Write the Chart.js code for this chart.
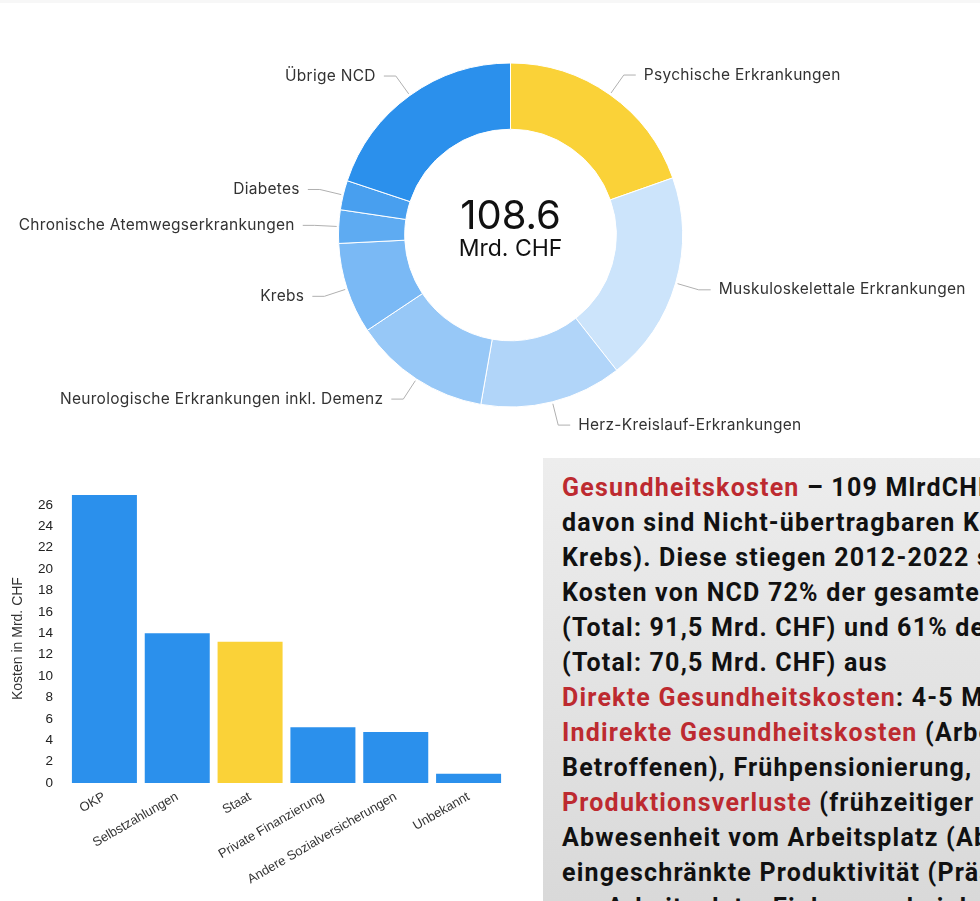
<!DOCTYPE html>
<html lang="de">
<head>
<meta charset="utf-8">
<title>NCD Kosten</title>
<script src="https://cdn.jsdelivr.net/npm/chart.js@4.4.1/dist/chart.umd.min.js"></script>
<style>
  html, body { margin: 0; padding: 0; background: #fff; overflow: hidden; }
  body { width: 980px; height: 901px; position: relative; }
  .topline { position: absolute; left: 0; top: 0; width: 980px; height: 3px; background: #f7f7f7; }
  #donutWrap { position: absolute; left: 0; top: 0; width: 980px; height: 470px; }
  #barWrap { position: absolute; left: 0; top: 471px; width: 520px; height: 430px; }
  .infobox {
    position: absolute; left: 543px; top: 458px; right: 0; bottom: 0;
    background: linear-gradient(#ededed, #d9d9d9);
    overflow: hidden;
    font-family: "Roboto", sans-serif;
    font-weight: 700; font-size: 25px; line-height: 35px; color: #111;
    letter-spacing: 1.2px;
    padding: 12px 0 0 19px; box-sizing: border-box;
  }
  .infobox div { white-space: nowrap; }
  .infobox .hl { color: #bd2a30; }
</style>
</head>
<body>
<div class="topline"></div>
<div id="donutWrap"><canvas id="donutChart" width="980" height="470"></canvas></div>
<div id="barWrap"><canvas id="barChart" width="520" height="430"></canvas></div>

<div class="infobox">
  <div><span class="hl">Gesundheitskosten</span> – 109 MlrdCHF (2022),</div>
  <div>davon sind Nicht-übertragbaren Krankheiten (NCD,</div>
  <div>Krebs). Diese stiegen 2012-2022 stark an.</div>
  <div>Kosten von NCD 72% der gesamten</div>
  <div>(Total: 91,5 Mrd. CHF) und 61% der</div>
  <div>(Total: 70,5 Mrd. CHF) aus</div>
  <div><span class="hl">Direkte Gesundheitskosten</span>: 4-5 Mrd. CHF</div>
  <div><span class="hl">Indirekte Gesundheitskosten</span> (Arbeitsausfall der</div>
  <div>Betroffenen), Frühpensionierung, Invalidität</div>
  <div><span class="hl">Produktionsverluste</span> (frühzeitiger Tod,</div>
  <div>Abwesenheit vom Arbeitsplatz (Absentismus),</div>
  <div>eingeschränkte Produktivität (Präsentismus)</div>
  <div>am Arbeitsplatz, Einbussen bei der Arbeit</div>
</div>

<script>
// Kosten nach Krankheitsgruppe (Mrd. CHF)
const ncdLabels = [
  'Psychische Erkrankungen',
  'Muskuloskelettale Erkrankungen',
  'Herz-Kreislauf-Erkrankungen',
  'Neurologische Erkrankungen inkl. Demenz',
  'Krebs',
  'Chronische Atemwegserkrankungen',
  'Diabetes',
  'Übrige NCD'
];
const ncdValues = [21.3, 21.5, 14.5, 14.0, 9.3, 3.4, 3.0, 21.6];
const ncdColors = ['#fad238', '#cce4fb', '#b1d5f9', '#97c8f7', '#7ab9f5', '#5eabf2', '#489fef', '#2b90ec'];
const ncdTotal = '108.6';
const ncdUnit = 'Mrd. CHF';

// Finanzierung (Mrd. CHF)
const fundLabels = ['OKP', 'Selbstzahlungen', 'Staat', 'Private Finanzierung', 'Andere Sozialversicherungen', 'Unbekannt'];
const fundValues = [27.0, 14.1, 13.3, 5.3, 4.85, 0.96];
const fundColors = ['#2b90ec', '#2b90ec', '#fad238', '#2b90ec', '#2b90ec', '#2b90ec'];
const yTicks = [0, 2, 4, 6, 8, 10, 12, 14, 16, 18, 20, 22, 24, 26];

// Beschriftungen mit Verbindungslinien ausserhalb des Rings
const outerLabels = {
  id: 'outerLabels',
  afterDatasetsDraw(chart) {
    const ctx = chart.ctx;
    const arcs = chart.getDatasetMeta(0).data;
    ctx.save();
    ctx.font = '15.5px Inter, "Noto Sans", sans-serif';
    ctx.letterSpacing = '0.3px';
    ctx.textBaseline = 'middle';
    arcs.forEach((arc, i) => {
      const mid = (arc.startAngle + arc.endAngle) / 2;
      const r = arc.outerRadius;
      const cos = Math.cos(mid), sin = Math.sin(mid);
      const right = cos >= 0;
      const sx = arc.x + cos * (r + 2), sy = arc.y + sin * (r + 2);
      const ex = arc.x + cos * (r + 24), ey = arc.y + sin * (r + 24);
      const hx = ex + (right ? 12 : -12);
      ctx.strokeStyle = '#b0b0b0';
      ctx.lineWidth = 1;
      ctx.beginPath();
      ctx.moveTo(sx, sy);
      ctx.lineTo(ex, ey);
      ctx.lineTo(hx, ey);
      ctx.stroke();
      ctx.fillStyle = '#333';
      ctx.textAlign = right ? 'left' : 'right';
      ctx.fillText(chart.data.labels[i], ex + (right ? 20 : -20), ey);
    });
    ctx.restore();
  }
};

// Summe in der Mitte
const centerText = {
  id: 'centerText',
  afterDatasetsDraw(chart) {
    const arc = chart.getDatasetMeta(0).data[0];
    const ctx = chart.ctx;
    ctx.save();
    ctx.fillStyle = '#111';
    ctx.textAlign = 'center';
    ctx.textBaseline = 'alphabetic';
    ctx.font = '40px Inter, "Noto Sans", sans-serif';
    ctx.fillText(ncdTotal, arc.x, arc.y - 6);
    ctx.font = '23px Inter, "Noto Sans", sans-serif';
    ctx.fillText(ncdUnit, arc.x, arc.y + 21);
    ctx.restore();
  }
};

new Chart(document.getElementById('donutChart'), {
  type: 'doughnut',
  data: {
    labels: ncdLabels,
    datasets: [{
      data: ncdValues,
      backgroundColor: ncdColors,
      borderColor: '#ffffff',
      borderWidth: 1,
      radius: 172,
      cutout: '61.5%'
    }]
  },
  options: {
    responsive: false,
    animation: false,
    layout: { padding: { left: 41 } },
    plugins: { legend: { display: false }, tooltip: { enabled: false } }
  },
  plugins: [outerLabels, centerText]
});

new Chart(document.getElementById('barChart'), {
  type: 'bar',
  data: {
    labels: fundLabels,
    datasets: [{
      data: fundValues,
      backgroundColor: fundColors,
      borderColor: 'rgba(255,255,255,0.55)',
      borderWidth: 1,
      barPercentage: 0.92,
      categoryPercentage: 1
    }]
  },
  options: {
    responsive: false,
    animation: false,
    layout: { padding: { top: 0, right: 15 } },
    plugins: { legend: { display: false }, tooltip: { enabled: false } },
    scales: {
      x: {
        grid: { display: false, drawTicks: false },
        border: { display: false },
        ticks: {
          color: '#333',
          font: { family: '"Liberation Sans", Arial, sans-serif', size: 13 },
          minRotation: 30,
          maxRotation: 30,
          autoSkip: false,
          padding: 6
        },
        afterFit(scale) { scale.height = 118; }
      },
      y: {
        min: 0,
        max: 27,
        grid: { display: false, drawTicks: false },
        border: { display: false },
        afterBuildTicks(scale) { scale.ticks = yTicks.map(v => ({ value: v })); },
        ticks: {
          color: '#222',
          font: { family: '"Liberation Sans", Arial, sans-serif', size: 13.5 },
          padding: 15
        },
        title: {
          display: true,
          text: 'Kosten in Mrd. CHF',
          color: '#333',
          font: { family: '"Liberation Sans", Arial, sans-serif', size: 14 },
          padding: { top: 10, bottom: 0 }
        },
        afterFit(scale) { scale.width = 68; }
      }
    }
  }
});
</script>
</body>
</html>
